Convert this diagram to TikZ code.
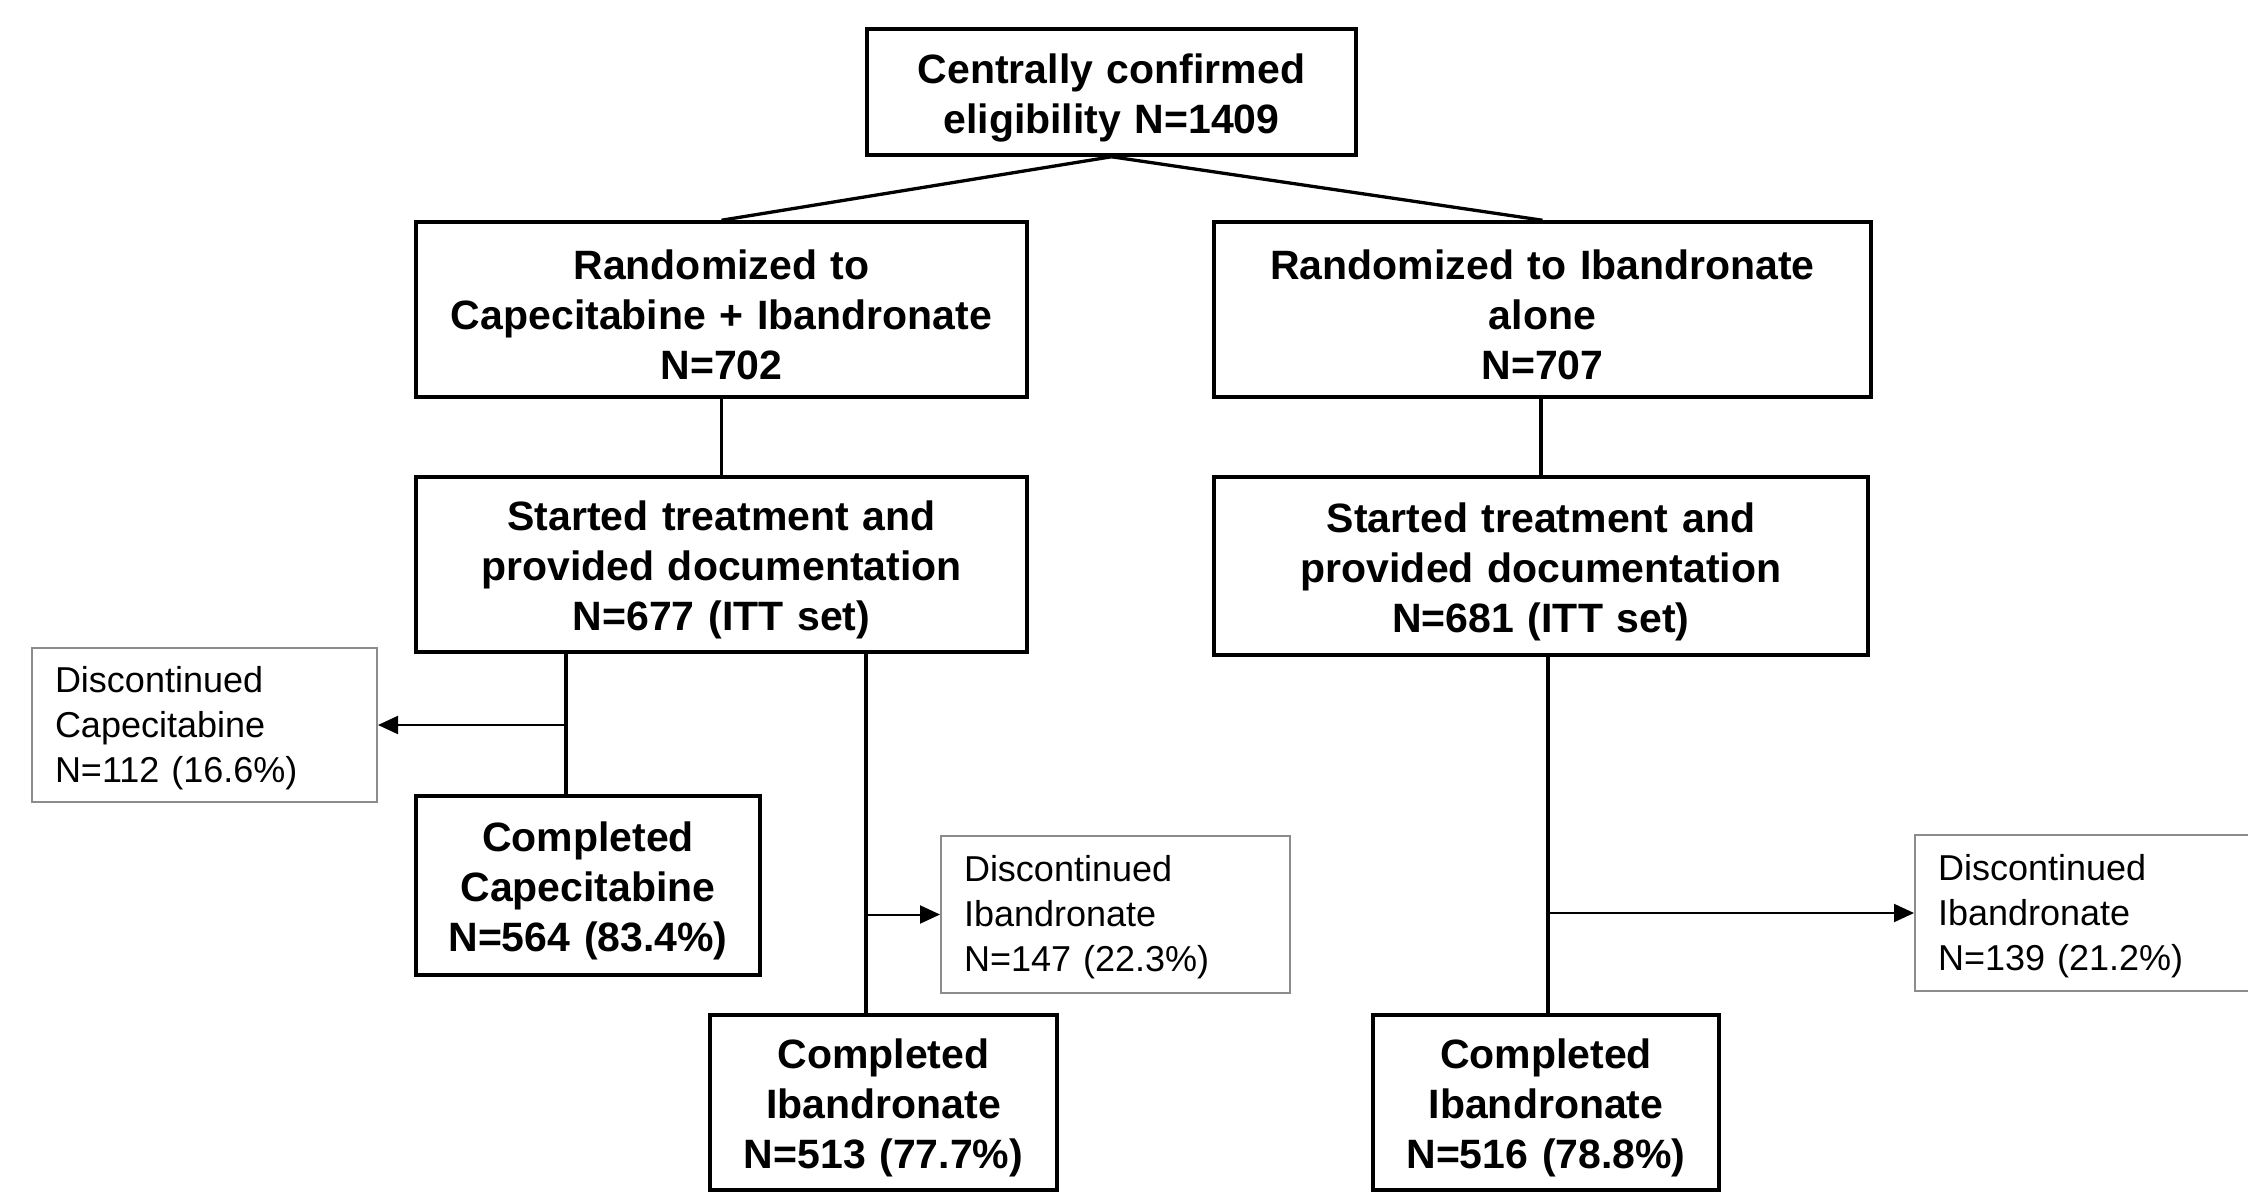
\documentclass[tikz,border=0pt]{standalone}
\usepackage{fontspec}
\setmainfont{Liberation Sans}
\usetikzlibrary{arrows.meta}
\definecolor{discgray}{RGB}{140,140,140}
\tikzset{
  mainbox/.style={draw=black, line width=3.5pt, rectangle, align=center, inner xsep=10pt, inner ysep=0pt,
    font=\bfseries\fontsize{41}{50}\selectfont, execute at begin node={\rule{0pt}{41pt}}},
  discbox/.style={draw=discgray, line width=2pt, rectangle, align=left, inner xsep=23pt, inner ysep=0pt,
    font=\fontsize{36}{45}\selectfont, execute at begin node={\rule{0pt}{32pt}}},
  conn/.style={draw=black, line width=3.3pt},
  arr/.style={draw=black, line width=2pt, -{Triangle[length=20pt,width=18pt]}},
}
\begin{document}
\begin{tikzpicture}[x=1pt,y=-1pt]
\useasboundingbox (0,0) rectangle (2248,1194);
\node[mainbox, text width=469pt, minimum height=126pt] (top) at (1111.5,92) {Centrally confirmed\\eligibility N=1409};
\node[mainbox, text width=591pt, minimum height=175pt] (randL) at (721.5,309.5) {Randomized to\\Capecitabine + Ibandronate\\N=702};
\node[mainbox, text width=637pt, minimum height=175pt] (randR) at (1542.5,309.5) {Randomized to Ibandronate\\alone\\N=707};
\node[mainbox, text width=591pt, minimum height=175pt] (startL) at (721.5,564.5) {Started treatment and\\provided documentation\\N=677 (ITT set)};
\node[mainbox, text width=634pt, minimum height=178pt] (startR) at (1541,566) {Started treatment and\\provided documentation\\N=681 (ITT set)};
\node[mainbox, text width=324pt, minimum height=179pt] (compC) at (588,885.5) {Completed\\Capecitabine\\N=564 (83.4\%)};
\node[mainbox, text width=327pt, minimum height=175pt] (compIL) at (883.5,1102.5) {Completed\\Ibandronate\\N=513 (77.7\%)};
\node[mainbox, text width=326pt, minimum height=175pt] (compIR) at (1546,1102.5) {Completed\\Ibandronate\\N=516 (78.8\%)};
\node[discbox, text width=299pt, minimum height=154pt] (discC) at (204.5,725) {Discontinued\\Capecitabine\\N=112 (16.6\%)};
\node[discbox, text width=303pt, minimum height=157pt] (discM) at (1115.5,914.5) {Discontinued\\Ibandronate\\N=147 (22.3\%)};
\node[discbox, text width=301pt, minimum height=156pt] (discR) at (2088.5,913) {Discontinued\\Ibandronate\\N=139 (21.2\%)};
\coordinate (bL) at (566,0);
\coordinate (bM) at (866,0);
\coordinate (bR) at (1548,0);
\draw[conn] (top.south) -- (randL.north);
\draw[conn] (top.south) -- (randR.north);
\draw[conn] (randL.south) -- (startL.north);
\draw[conn] (randR.south -| startR.north) -- (startR.north);
\draw[conn] (startL.south -| bL) -- (compC.north -| bL);
\draw[conn] (startL.south -| bM) -- (compIL.north -| bM);
\draw[conn] (startR.south -| bR) -- (compIR.north -| bR);
\draw[arr] ([xshift=2pt]discC.east -| bL) -- (discC.east);
\draw[arr] (discM.west -| bM) -- (discM.west);
\draw[arr] (discR.west -| bR) -- (discR.west);
\end{tikzpicture}
\end{document}
